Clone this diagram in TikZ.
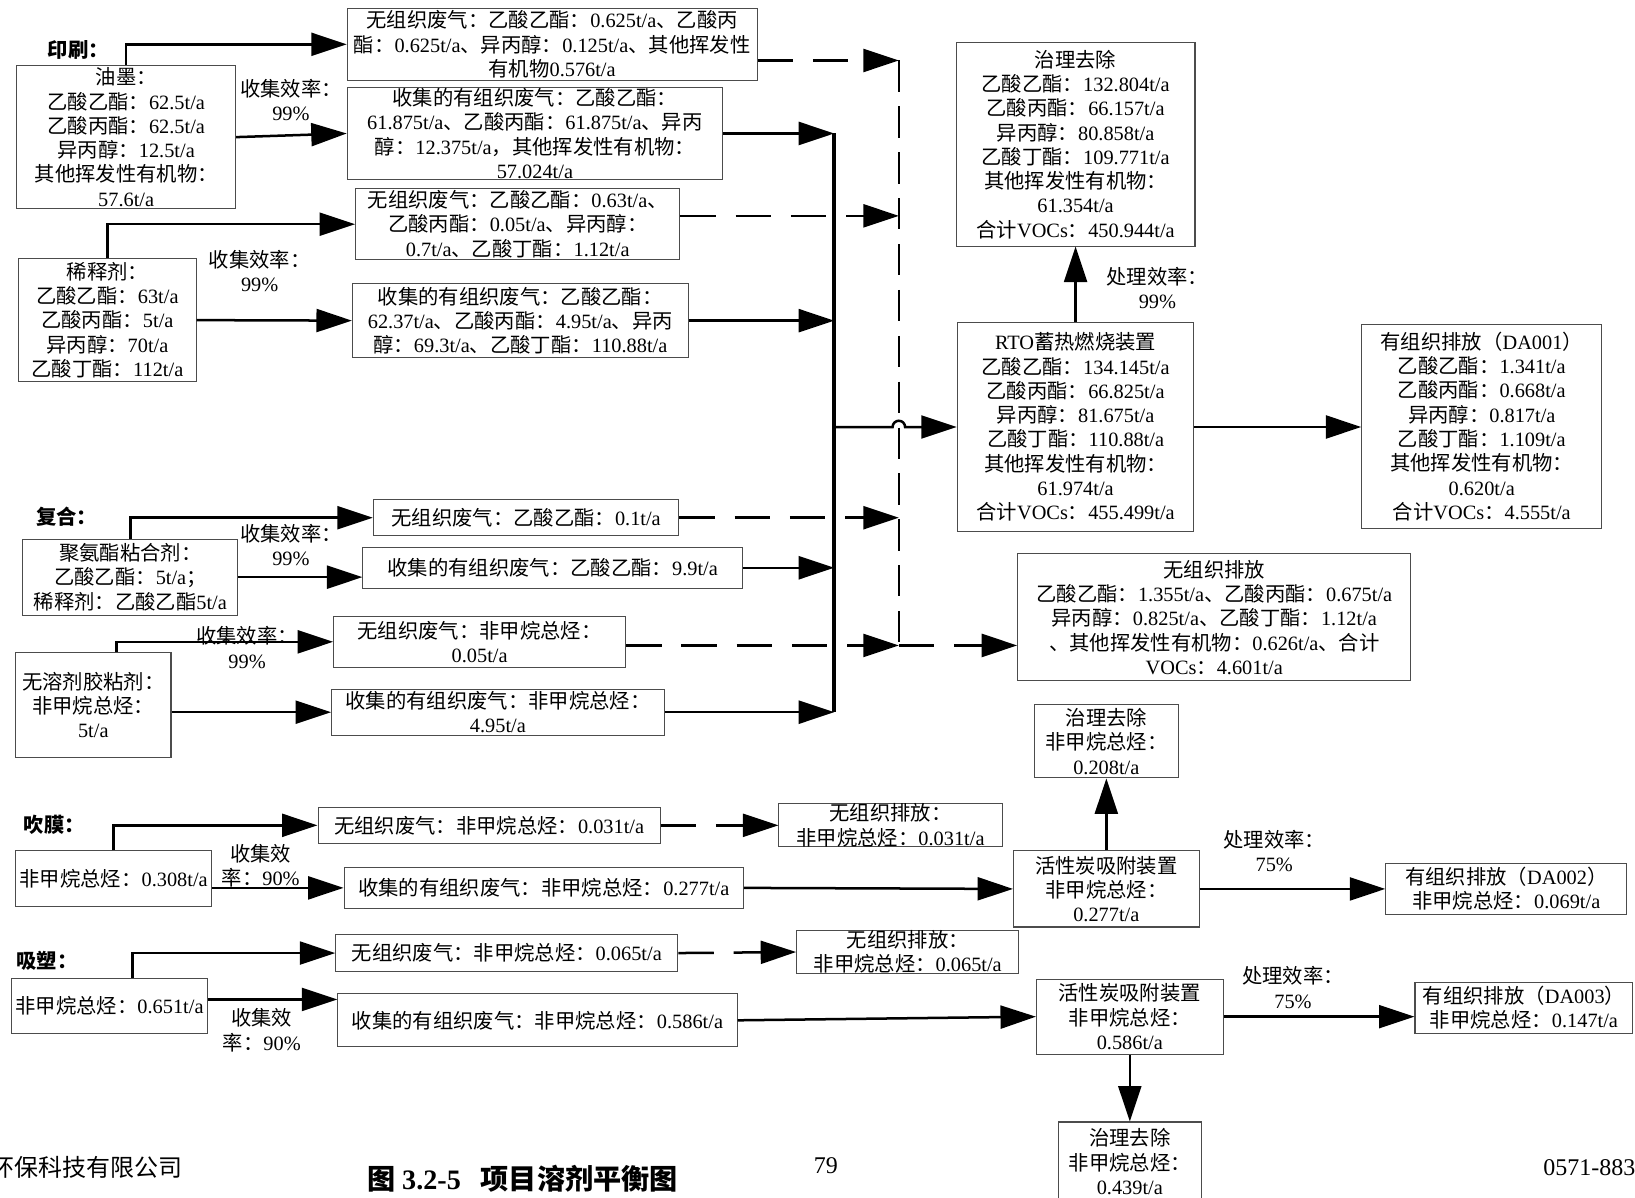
\documentclass[tikz,border=0pt]{standalone}
\usepackage{fontspec}
\setmainfont{Liberation Serif}
\newfontfamily\cjkfont{Noto Sans CJK SC}
\usetikzlibrary{arrows.meta,calc}

% switch to the CJK family automatically for Han characters and full-width punctuation
\XeTeXinterchartokenstate=1
\newXeTeXintercharclass\cjkclass
\makeatletter
\def\setcjkrange#1#2{\count@=#1\relax
  \loop\XeTeXcharclass\count@=\cjkclass\relax
  \ifnum\count@<#2\relax\advance\count@\@ne\repeat}
\setcjkrange{"3000}{"303F}
\setcjkrange{"4E00}{"9FFF}
\setcjkrange{"FF00}{"FFEF}
\makeatother
\XeTeXinterchartoks 0 \cjkclass={\begingroup\cjkfont}
\XeTeXinterchartoks 4095 \cjkclass={\begingroup\cjkfont}
\XeTeXinterchartoks \cjkclass 0={\endgroup}
\XeTeXinterchartoks \cjkclass 4095={\endgroup}

\tikzset{
  txt/.style={font=\fontsize{19.5}{23.3}\selectfont},
  box/.style={txt, draw=black!70, line width=1pt, align=center, inner sep=0pt},
  lbl/.style={txt, align=center, inner sep=0pt},
  head/.style={inner sep=0pt, font=\fontsize{19.5}{23.3}\selectfont\bfseries},
  arr/.style={line width=2.4pt, -{Triangle[length=34pt,width=22pt]}},
  darr/.style={arr, dash pattern=on 34pt off 19pt},
  busline/.style={line width=3.4pt},
  dbusline/.style={line width=2.4pt, dash pattern=on 30pt off 14pt},
}

\begin{document}
\begin{tikzpicture}[x=1pt,y=-1pt]
\fill[white] (0,0) rectangle (1568,1148);
\useasboundingbox (0,0) rectangle (1568,1148);

% ---------- printing ----------
\node[head] (hprint) at (75,48) {印刷：};
\node[box, minimum width=210pt, minimum height=137pt] (ink) at (121,131.5)
  {油墨：\\乙酸乙酯：62.5t/a\\乙酸丙酯：62.5t/a\\异丙醇：12.5t/a\\其他挥发性有机物：\\57.6t/a};
\node[box, minimum width=393pt, minimum height=69pt] (fug1) at (529.5,42.5)
  {无组织废气：乙酸乙酯：0.625t/a、乙酸丙\\酯：0.625t/a、异丙醇：0.125t/a、其他挥发性\\有机物0.576t/a};
\node[box, minimum width=360pt, minimum height=88pt] (col1) at (513,128)
  {收集的有组织废气：乙酸乙酯：\\61.875t/a、乙酸丙酯：61.875t/a、异丙\\醇：12.375t/a，其他挥发性有机物：\\57.024t/a};
\node[lbl] (eff1) at (279,96) {收集效率：\\99\%};

\node[box, minimum width=170pt, minimum height=118pt] (dil) at (103,307)
  {稀释剂：\\乙酸乙酯：63t/a\\乙酸丙酯：5t/a\\异丙醇：70t/a\\乙酸丁酯：112t/a};
\node[box, minimum width=311pt, minimum height=68pt] (fug2) at (496.5,215)
  {无组织废气：乙酸乙酯：0.63t/a、\\乙酸丙酯：0.05t/a、异丙醇：\\0.7t/a、乙酸丁酯：1.12t/a};
\node[box, minimum width=322pt, minimum height=71pt] (col2) at (499,307.5)
  {收集的有组织废气：乙酸乙酯：\\62.37t/a、乙酸丙酯：4.95t/a、异丙\\醇：69.3t/a、乙酸丁酯：110.88t/a};
\node[lbl] (eff2) at (249,260) {收集效率：\\99\%};

% ---------- laminating ----------
\node[head] (hlam) at (64,496) {复合：};
\node[box, minimum width=206pt, minimum height=73pt] (pu) at (125,553.5)
  {聚氨酯粘合剂：\\乙酸乙酯：5t/a；\\稀释剂：乙酸乙酯5t/a};
\node[box, minimum width=293pt, minimum height=35pt] (fug3) at (504.5,496.5)
  {无组织废气：乙酸乙酯：0.1t/a};
\node[box, minimum width=364pt, minimum height=39pt] (col3) at (530,544.5)
  {收集的有组织废气：乙酸乙酯：9.9t/a};
\node[lbl] (eff3) at (279,523) {收集效率：\\99\%};

\node[box, minimum width=149pt, minimum height=100pt] (sf) at (89.5,676)
  {无溶剂胶粘剂：\\非甲烷总烃：\\5t/a};
\node[box, minimum width=280pt, minimum height=49pt] (fug4) at (460,615.5)
  {无组织废气：非甲烷总烃：\\0.05t/a};
\node[box, minimum width=319pt, minimum height=44pt] (col4) at (477.5,683)
  {收集的有组织废气：非甲烷总烃：\\4.95t/a};
\node[lbl] (eff4) at (237,621) {收集效率：\\99\%};

% ---------- RTO ----------
\node[box, minimum width=227pt, minimum height=201pt] (rto) at (1031.5,409.5)
  {RTO蓄热燃烧装置\\乙酸乙酯：134.145t/a\\乙酸丙酯：66.825t/a\\异丙醇：81.675t/a\\乙酸丁酯：110.88t/a\\其他挥发性有机物：\\61.974t/a\\合计VOCs：455.499t/a};
\node[box, minimum width=229pt, minimum height=195pt] (rm1) at (1031.5,138.5)
  {治理去除\\乙酸乙酯：132.804t/a\\乙酸丙酯：66.157t/a\\异丙醇：80.858t/a\\乙酸丁酯：109.771t/a\\其他挥发性有机物：\\61.354t/a\\合计VOCs：450.944t/a};
\node[box, minimum width=230pt, minimum height=196pt] (da1) at (1421,409)
  {有组织排放（DA001）\\乙酸乙酯：1.341t/a\\乙酸丙酯：0.668t/a\\异丙醇：0.817t/a\\乙酸丁酯：1.109t/a\\其他挥发性有机物：\\0.620t/a\\合计VOCs：4.555t/a};
\node[box, minimum width=377pt, minimum height=122pt] (fugall) at (1164.5,592)
  {无组织排放\\乙酸乙酯：1.355t/a、乙酸丙酯：0.675t/a\\异丙醇：0.825t/a、乙酸丁酯：1.12t/a\\、其他挥发性有机物：0.626t/a、合计\\VOCs：4.601t/a};
\node[lbl] (eff5) at (1110,276) {处理效率：\\99\%};

% ---------- film blowing ----------
\node[head] (hblow) at (52,791) {吹膜：};
\node[box, minimum width=188pt, minimum height=53pt] (bf) at (109,842.5) {非甲烷总烃：0.308t/a};
\node[box, minimum width=328pt, minimum height=35pt] (fug5) at (469,791.5) {无组织废气：非甲烷总烃：0.031t/a};
\node[box, minimum width=214pt, minimum height=41pt] (out5) at (854,791.5) {无组织排放：\\非甲烷总烃：0.031t/a};
\node[box, minimum width=383pt, minimum height=39pt] (col5) at (521.5,851.5) {收集的有组织废气：非甲烷总烃：0.277t/a};
\node[box, minimum width=178pt, minimum height=73pt] (ac1) at (1061,852.5) {活性炭吸附装置\\非甲烷总烃：\\0.277t/a};
\node[box, minimum width=138pt, minimum height=70pt] (rm2) at (1061,711) {治理去除\\非甲烷总烃：\\0.208t/a};
\node[box, minimum width=231pt, minimum height=49pt] (da2) at (1444.5,852.5) {有组织排放（DA002）\\非甲烷总烃：0.069t/a};
\node[lbl] (eff6) at (250,830) {收集效\\率：90\%};
\node[lbl] (eff7) at (1222,816) {处理效率：\\75\%};

% ---------- thermoforming ----------
\node[head] (htherm) at (45,921) {吸塑：};
\node[box, minimum width=188pt, minimum height=53pt] (tf) at (105,964.5) {非甲烷总烃：0.651t/a};
\node[box, minimum width=328pt, minimum height=36pt] (fug6) at (486,914) {无组织废气：非甲烷总烃：0.065t/a};
\node[box, minimum width=213pt, minimum height=42pt] (out6) at (870.5,913) {无组织排放：\\非甲烷总烃：0.065t/a};
\node[box, minimum width=383pt, minimum height=51pt] (col6) at (515.5,978.5) {收集的有组织废气：非甲烷总烃：0.586t/a};
\node[box, minimum width=179pt, minimum height=72pt] (ac2) at (1083.5,975) {活性炭吸附装置\\非甲烷总烃：\\0.586t/a};
\node[box, minimum width=209pt, minimum height=49pt] (da3) at (1461.5,966.5) {有组织排放（DA003）\\非甲烷总烃：0.147t/a};
\node[box, minimum width=137pt, minimum height=76pt] (rm3) at (1083.5,1114) {治理去除\\非甲烷总烃：\\0.439t/a};
\node[lbl] (eff8) at (251,988) {收集效\\率：90\%};
\node[lbl] (eff9) at (1240,947) {处理效率：\\75\%};

% ---------- page footer ----------
\node[inner sep=0pt, anchor=east, font=\fontsize{23}{27}\selectfont] (corp) at (175,1120) {环保科技有限公司};
\node[inner sep=0pt, font=\fontsize{27}{31}\selectfont\bfseries] (cap) at (501,1130) {图 3.2-5\hspace{19pt}项目溶剂平衡图};
\node[inner sep=0pt, font=\fontsize{23}{27}\selectfont] (pg) at (792,1118) {79};
\node[inner sep=0pt, anchor=west, font=\fontsize{23}{27}\selectfont] (tel) at (1480,1120) {0571-883};

% ---------- connectors ----------
\coordinate (busx) at (800,0);
\coordinate (dbusx) at (862,0);

% branches to fugitive and collected gas
\draw[arr] (ink.north) |- (fug1.west);
\draw[arr] (ink.east) -- (col1.west);
\draw[arr] (dil.north) |- (fug2.west);
\draw[arr] (dil.east) -- (col2.west);
\draw[arr] (pu.north) |- (fug3.west);
\draw[arr] (pu.east) -- (pu.east -| col3.west);
\draw[arr] ([xshift=22pt]sf.north) |- (fug4.west);
\draw[arr] (sf.east |- col4.west) -- (col4.west);
\draw[arr] (bf.north) |- (fug5.west);
\draw[arr] (bf.east |- col5.west) -- (col5.west);
\draw[arr] ([xshift=22pt]tf.north) |- (fug6.west);
\draw[arr] ([yshift=6pt]tf.east) -- ([yshift=6pt]tf.east -| col6.west);

% collected gas into the collecting main
\draw[arr] (col1.east) -- (col1.east -| busx);
\draw[arr] (col2.east) -- (col2.east -| busx);
\draw[arr] (col3.east) -- (col3.east -| busx);
\draw[arr] (col4.east) -- (col4.east -| busx);
\draw[busline] (col1.east -| busx) -- (col4.east -| busx);

% fugitive gas into the dashed main
\draw[dbusline] ([yshift=-15.5pt]fug1.east -| dbusx) -- ([yshift=-3.5pt]fug4.east -| dbusx);
\draw[darr] ([yshift=-15.5pt]fug1.east) -- ([yshift=-15.5pt]fug1.east -| dbusx);
\draw[darr] ([yshift=8pt]fug2.east) -- ([yshift=8pt]fug2.east -| dbusx);
\draw[darr] (fug3.east) -- (fug3.east -| dbusx);
\draw[darr] ([yshift=-3.5pt]fug4.east) -- ([yshift=-3.5pt]fug4.east -| dbusx);
\draw[darr] ([yshift=-3.5pt]fug4.east -| dbusx) -- ([yshift=-3.5pt]fug4.east -| fugall.west);

% main to RTO, hopping over the dashed main
\draw[arr] (busx |- rto.west) -- ($(dbusx |- rto.west)+(-6,0)$)
  arc[start angle=180, end angle=360, radius=6] -- (rto.west);
\draw[arr] (rto.north) -- (rm1.south);
\draw[arr] (rto.east) -- (rto.east -| da1.west);

% activated carbon lines
\draw[darr] (fug5.east) -- (out5.west);
\draw[arr] (col5.east) -- (ac1.west);
\draw[arr] (ac1.north) -- (rm2.south);
\draw[arr] (ac1.east) -- (da2.west);
\draw[darr] (fug6.east) -- (out6.west);
\draw[arr] (col6.east) -- (ac2.west);
\draw[arr] (ac2.east) -- (ac2.east -| da3.west);
\draw[arr] (ac2.south) -- (rm3.north);
\end{tikzpicture}
\end{document}
